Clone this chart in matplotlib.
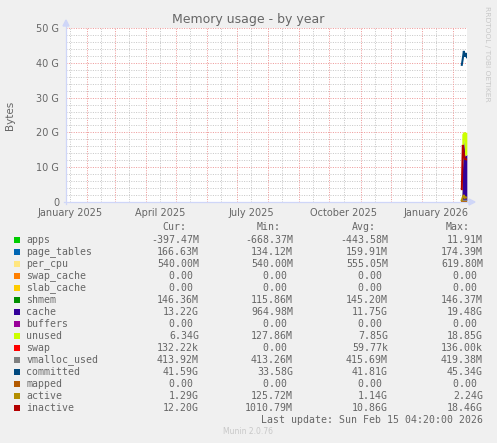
import datetime as dt
import numpy as np
import matplotlib
matplotlib.use("Agg")
import matplotlib.pyplot as plt
import matplotlib.dates as mdates
from matplotlib.patches import Polygon
from matplotlib.lines import Line2D

# ---------------- data (values in G, binary) ----------------
dates = [dt.datetime(2026, 2, d) for d in (10, 11, 12, 13, 14, 15)]

apps        = [-0.65, -0.45, -0.42, -0.44, -0.40, -0.39]
page_tables = [0.13, 0.16, 0.165, 0.165, 0.163, 0.163]
per_cpu     = [0.60, 0.55, 0.53, 0.53, 0.53, 0.53]
swap_cache  = [0, 0, 0, 0, 0, 0]
slab_cache  = [0, 0, 0, 0, 0, 0]
shmem       = [0.11, 0.14, 0.143, 0.143, 0.143, 0.143]
cache       = [0.94, 12.6, 17.5, 12.8, 13.0, 13.22]
buffers     = [0, 0, 0, 0, 0, 0]
unused      = [18.4, 7.0, 2.3, 7.0, 6.6, 6.34]
swap        = [0, 0.0001, 0.0001, 0.0001, 0.0001, 0.0001]

vmalloc_used = [0.404, 0.404, 0.405, 0.404, 0.404, 0.404]
committed    = [39.4, 41.2, 43.4, 41.8, 42.8, 41.6]
mapped       = [0, 0, 0, 0, 0, 0]
active       = [0.5, 1.4, 2.0, 1.2, 1.3, 1.29]
inactive     = [3.7, 16.4, 14.0, 12.4, 12.3, 12.2]

legend_names = ["apps", "page_tables", "per_cpu", "swap_cache", "slab_cache", "shmem",
                "cache", "buffers", "unused", "swap", "vmalloc_used", "committed",
                "mapped", "active", "inactive"]
legend_colors = ["#00CC00", "#0066B3", "#FFE680", "#FF8000", "#FFCC00", "#008F00",
                 "#330099", "#990099", "#CCFF00", "#FF0000", "#808080", "#00487D",
                 "#B35A00", "#B38F00", "#B30000"]
cur_vals = ["-397.47M", "166.63M", "540.00M", "0.00 ", "0.00 ", "146.36M", "13.22G",
            "0.00 ", "6.34G", "132.22k", "413.92M", "41.59G", "0.00 ", "1.29G", "12.20G"]
min_vals = ["-668.37M", "134.12M", "540.00M", "0.00 ", "0.00 ", "115.86M", "964.98M",
            "0.00 ", "127.86M", "0.00 ", "413.26M", "33.58G", "0.00 ", "125.72M", "1010.79M"]
avg_vals = ["-443.58M", "159.91M", "555.05M", "0.00 ", "0.00 ", "145.20M", "11.75G",
            "0.00 ", "7.85G", "59.77k", "415.69M", "41.81G", "0.00 ", "1.14G", "10.86G"]
max_vals = ["11.91M", "174.39M", "619.80M", "0.00 ", "0.00 ", "146.37M", "19.48G",
            "0.00 ", "18.85G", "136.00k", "419.38M", "45.34G", "0.00 ", "2.24G", "18.46G"]

y_ticks = [0, 10, 20, 30, 40, 50]
y_tick_labels = ["0", "10 G", "20 G", "30 G", "40 G", "50 G"]
x_label_dates = [dt.datetime(2025, 1, 15), dt.datetime(2025, 4, 15), dt.datetime(2025, 7, 15),
                 dt.datetime(2025, 10, 15), dt.datetime(2026, 1, 15)]
x_labels = ["January 2025", "April 2025", "July 2025", "October 2025", "January 2026"]

# ---------------- figure ----------------
W, H = 497, 443
BG = "#F0F0F0"
FONT = "#666666"
AXISC = "#CFD6F8"
fig = plt.figure(figsize=(W / 100, H / 100), dpi=100, facecolor=BG)

L, R, T, B = 66, 467, 28, 202
ax = fig.add_axes([L / W, 1 - B / H, (R - L) / W, (B - T) / H])
ax.set_facecolor("white")
for s in ax.spines.values():
    s.set_visible(False)

end = dt.datetime(2026, 2, 15, 4, 20)
start = end - dt.timedelta(days=400)
ax.set_xlim(mdates.date2num(start), mdates.date2num(end))
ax.set_ylim(0, 50)

# grid
months = []
d = dt.datetime(2025, 2, 1)
while d < end:
    months.append(d)
    d = dt.datetime(d.year + (d.month // 12), d.month % 12 + 1, 1)
mids = []
d = dt.datetime(2025, 1, 15)
while d < end:
    mids.append(d)
    d = dt.datetime(d.year + (d.month // 12), d.month % 12 + 1, 15)
minor_c = "#C8C8C8"
major_c = "#EE9A9A"
gkw = dict(lw=0.72, ls=(0, (1, 1.4)))
for m in mids:
    ax.axvline(mdates.date2num(m), color=minor_c, zorder=1, **gkw)
for yv in np.arange(2, 50, 2):
    if yv % 10:
        ax.axhline(yv, color=minor_c, zorder=1, **gkw)
for m in months:
    ax.axvline(mdates.date2num(m), color=major_c, zorder=1.5, **gkw)
for yv in y_ticks[1:]:
    ax.axhline(yv, color=major_c, zorder=1.5, **gkw)

# stacked areas
x = mdates.date2num(dates)
stack = [("apps", apps), ("page_tables", page_tables), ("per_cpu", per_cpu),
         ("swap_cache", swap_cache), ("slab_cache", slab_cache), ("shmem", shmem),
         ("cache", cache), ("buffers", buffers), ("unused", unused), ("swap", swap)]
cmap = dict(zip(legend_names, legend_colors))
base = np.zeros(len(x))
for name, vals in stack:
    top = base + np.array(vals)
    ax.fill_between(x, base, top, color=cmap[name], lw=0, zorder=3)
    base = top

lines = [("vmalloc_used", vmalloc_used), ("committed", committed), ("mapped", mapped),
         ("active", active), ("inactive", inactive)]
for name, vals in lines:
    ax.plot(x, vals, color=cmap[name], lw=1.44, zorder=4, solid_joinstyle="miter")

# ticks
ax.set_yticks(y_ticks)
ax.set_yticklabels(y_tick_labels)
ax.set_xticks(mdates.date2num(x_label_dates))
ax.set_xticklabels(x_labels)
ax.tick_params(axis="both", length=0, colors=FONT, labelsize=7)
ax.tick_params(axis="y", pad=5)
ax.tick_params(axis="x", pad=4)

# axis lines with arrows (figure pixel coords)
def px(xp, yp):
    return (xp / W, 1 - yp / H)

fig.add_artist(Line2D([L / W, L / W], [1 - (B + 2) / H, 1 - 24 / H], color=AXISC, lw=0.9))
fig.add_artist(Line2D([(L - 2) / W, 471 / W], [1 - B / H, 1 - B / H], color=AXISC, lw=0.9))
fig.add_artist(Polygon([px(L - 3, 26), px(L + 3, 26), px(L, 20)], closed=True,
                       transform=fig.transFigure, color=AXISC))
fig.add_artist(Polygon([px(469, B - 3), px(469, B + 3), px(475, B)], closed=True,
                       transform=fig.transFigure, color=AXISC))

# title & labels
fig.text(0.5, 1 - 19 / H, "Memory usage - by year", ha="center", va="center",
         fontsize=9, color=FONT)
fig.text(10 / W, 1 - 115 / H, "Bytes", rotation=90, ha="center", va="center",
         fontsize=7.5, color=FONT)
fig.text(487 / W, 1 - 54 / H, "RRDTOOL / TOBI OETIKER", rotation=270, ha="center",
         va="center", fontsize=5.4, color="#C8C8C8")

# legend
mono = "DejaVu Sans Mono"
lfs = 7.1
hy = 227.3
for txt, cx in (("Cur:", 174), ("Min:", 269), ("Avg:", 364), ("Max:", 458)):
    fig.text(cx / W, 1 - hy / H, txt, ha="center", va="center", family=mono,
             fontsize=lfs, color=FONT)
for i, name in enumerate(legend_names):
    yy = 239.7 + 12 * i
    fig.add_artist(Polygon([px(14, yy - 3), px(20, yy - 3), px(20, yy + 3), px(14, yy + 3)],
                           closed=True, transform=fig.transFigure,
                           facecolor=legend_colors[i], edgecolor="none"))
    fig.text(26.3 / W, 1 - yy / H, name, ha="left", va="center", family=mono,
             fontsize=lfs, color=FONT)
    for vals, rx in ((cur_vals, 199), (min_vals, 293), (avg_vals, 388), (max_vals, 483)):
        fig.text(rx / W, 1 - yy / H, vals[i], ha="right", va="center", family=mono,
                 fontsize=lfs, color=FONT)

fig.text(483 / W, 1 - 420 / H, "Last update: Sun Feb 15 04:20:00 2026", ha="right",
         va="center", family=mono, fontsize=lfs, color=FONT)
fig.text(248 / W, 1 - 432 / H, "Munin 2.0.76", ha="center", va="center",
         fontsize=5.5, color="#C8C8C8")

fig.savefig("out.png", dpi=100, facecolor=BG)
